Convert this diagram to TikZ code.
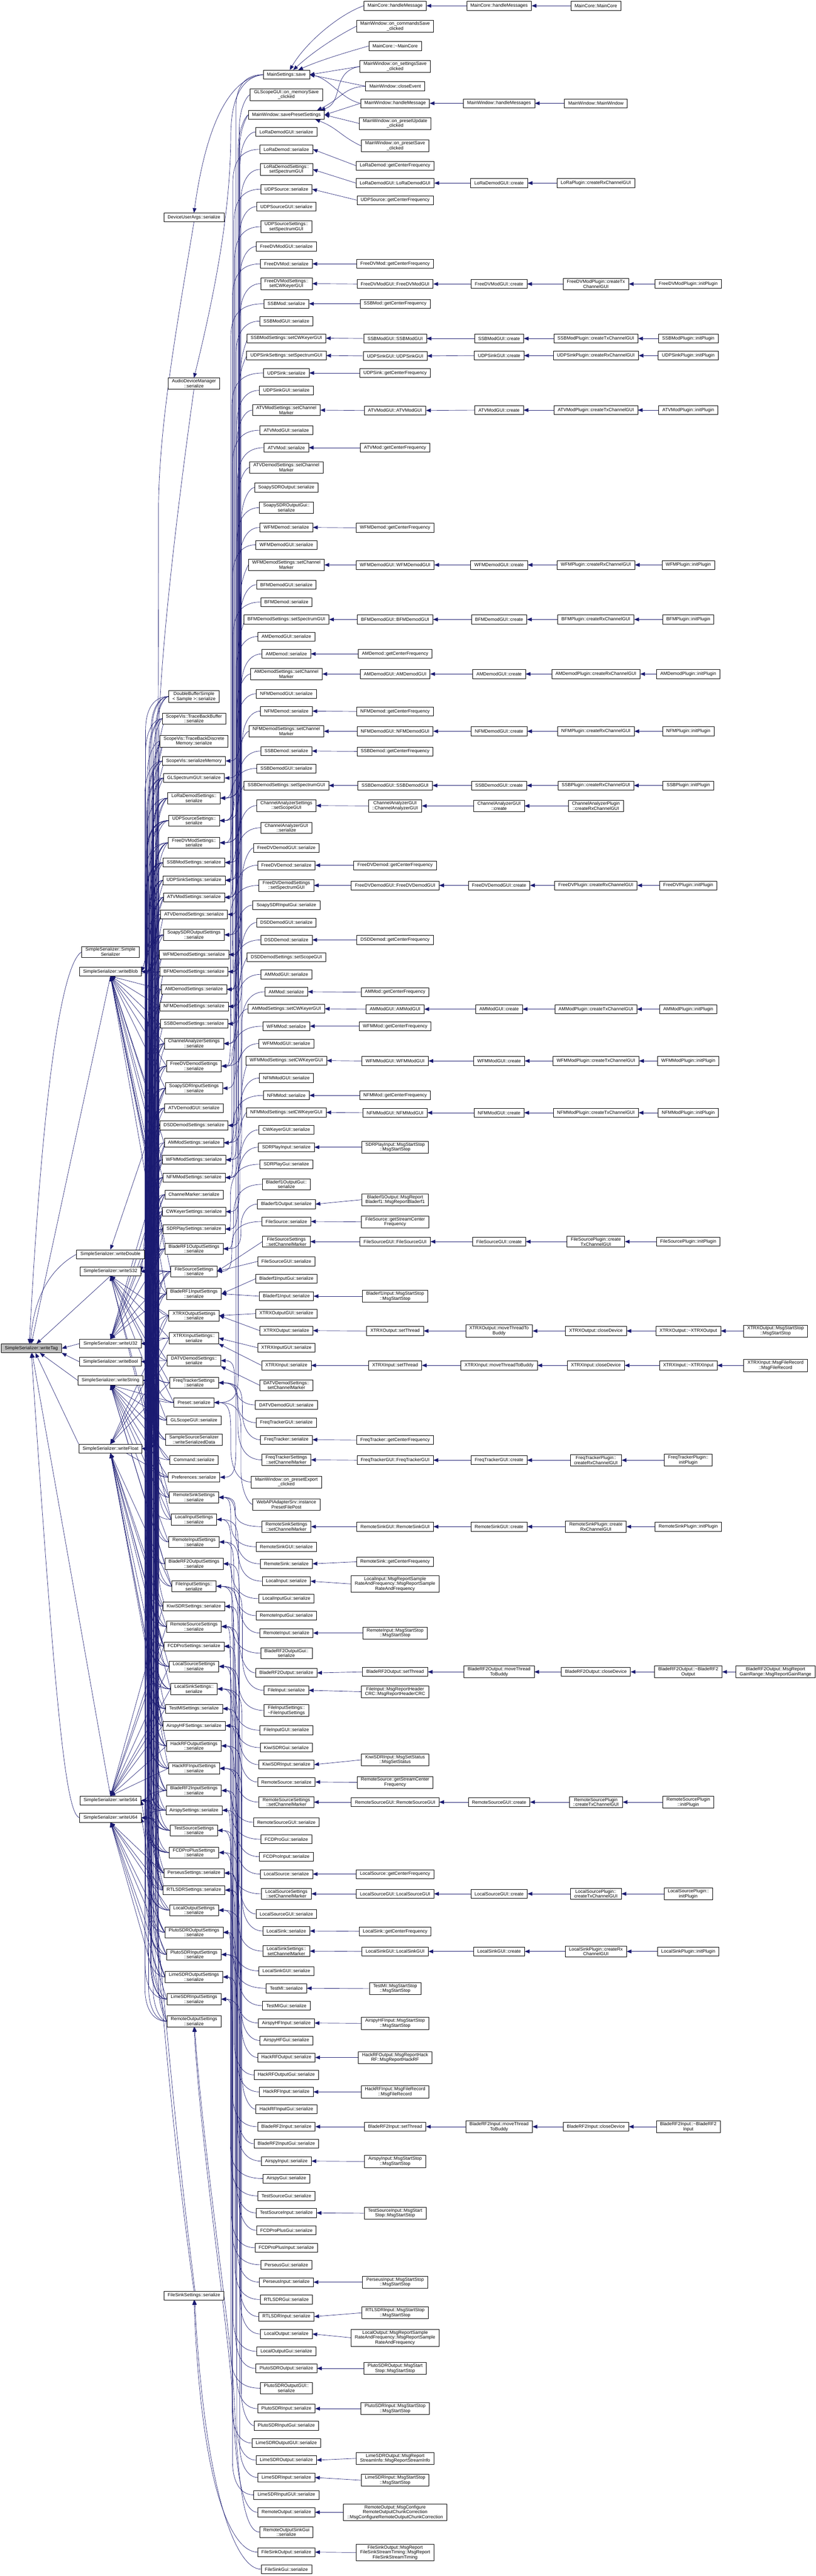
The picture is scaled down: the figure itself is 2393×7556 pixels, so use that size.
\documentclass[tikz,border=0pt]{standalone}
\usepackage{fontspec}
\setmainfont{Liberation Sans}
\usetikzlibrary{arrows.meta,backgrounds}
\definecolor{linkblue}{HTML}{191970}
\tikzset{
fn/.style={draw=black, fill=white, line width=1pt, align=center, inner xsep=11pt, inner ysep=4pt, minimum height=26pt, font=\fontsize{13.5}{14.5}\selectfont},
fnmain/.style={fn, fill=gray!50},
link/.style={draw=linkblue, line width=1pt, {Triangle[length=14pt,width=11pt]}-},
}
% long edge: out of the callee, along a vertical spine, into the caller
\newcommand{\hub}[4]{%
\pgfpointanchor{#1}{east}\pgfgetlastxy{\ax}{\ay}%
\pgfpointanchor{#2}{west}\pgfgetlastxy{\bx}{\by}%
\pgfmathsetmacro{\spinex}{#3+mod(abs(\ay+\by),#4)}%
\pgfmathsetmacro{\bendy}{ifthenelse(\by<\ay,-1,1)*min(100,abs(\by-\ay)/2)}%
\draw[link] (#1.east) .. controls (\spinex pt,\ay) and (\spinex pt,\ay+\bendy*0.4pt) .. (\spinex pt,\ay+\bendy*1pt) -- (\spinex pt,\by-\bendy*1pt) .. controls (\spinex pt,\by-\bendy*0.35pt) and (\spinex pt+25pt,\by) .. (#2.west);}
\newcommand{\hubR}[2]{\hub{#1}{#2}{676}{36}}
\newcommand{\hubL}[2]{\hub{#1}{#2}{425}{42}}
\newcommand{\upperset}{dbuf,tbBuf,tbMem,sMem,gSpec,sLora,sUdpSrc,sFdvMod,sSsbMod,sUdpSink,sAtvMod,sAtvDem,sSoapyOut,sWfmDem,sBfmDem,sAmDem,sNfmDem,sSsbDem,sChan,sFdvDem,sSoapyIn,gAtvDem,sDsd,sAmMod,sWfmMod,sNfmMod,cMarker,sCw,sSdrPlay,sBlOneOut,sFileSrc,sBlOneIn}
\newcommand{\midset}{sXtrxOut,sXtrxIn,sDatv,sFreq,preset,gScope,writeData,command,prefs,sRemSink,sLocIn,sRemIn,sBlTwoOut,sFileIn}
\newcommand{\lowset}{sKiwi,sRemSrc,sFcd,sLocSrc,sLocSink,sTestMi,sAirHf,sHackOut,sHackIn,sBlTwoIn,sAir,sTest,sFcdPlus,sPers,sRtl,sLocOut,sPlutoOut,sPlutoIn,sLimeOut,sLimeIn,sRemOut}
\begin{document}
\begin{tikzpicture}[x=1pt,y=-1pt]
\useasboundingbox (0,0) rectangle (2393,7556);
% callee
\node[fnmain] (wTag) at (92,3955){SimpleSerializer::writeTag};
\node[fn] (ssCtor) at (324,2792){SimpleSerializer::Simple\\Serializer};
\node[fn] (wBlob) at (324,2850){SimpleSerializer::writeBlob};
\node[fn] (wDouble) at (324,3679){SimpleSerializer::writeDouble};
\node[fn] (wS32) at (324,3729){SimpleSerializer::writeS32};
\node[fn] (wU32) at (324,3941){SimpleSerializer::writeU32};
\node[fn] (wBool) at (324,3994){SimpleSerializer::writeBool};
\node[fn] (wString) at (324,4049){SimpleSerializer::writeString};
\node[fn] (wFloat) at (324,4249){SimpleSerializer::writeFloat};
\node[fn] (wS64) at (324,5281){SimpleSerializer::writeS64};
\node[fn] (wU64) at (324,5332){SimpleSerializer::writeU64};
% settings
\node[fn] (args) at (569,638){DeviceUserArgs::serialize};
\node[fn] (audio) at (569,1125){AudioDeviceManager\\::serialize};
\node[fn] (dbuf) at (569,2043){DoubleBufferSimple\\< Sample >::serialize};
\node[fn] (tbBuf) at (569,2108){ScopeVis::TraceBackBuffer\\::serialize};
\node[fn] (tbMem) at (569,2174){ScopeVis::TraceBackDiscrete\\Memory::serialize};
\node[fn] (sMem) at (569,2232){ScopeVis::serializeMemory};
\node[fn] (gSpec) at (569,2282){GLSpectrumGUI::serialize};
\node[fn] (sLora) at (569,2341){LoRaDemodSettings::\\serialize};
\node[fn] (sUdpSrc) at (569,2407){UDPSourceSettings::\\serialize};
\node[fn] (sFdvMod) at (569,2472){FreeDVModSettings::\\serialize};
\node[fn] (sSsbMod) at (569,2530){SSBModSettings::serialize};
\node[fn] (sUdpSink) at (569,2582){UDPSinkSettings::serialize};
\node[fn] (sAtvMod) at (569,2632){ATVModSettings::serialize};
\node[fn] (sAtvDem) at (569,2682){ATVDemodSettings::serialize};
\node[fn] (sSoapyOut) at (569,2742){SoapySDROutputSettings\\::serialize};
\node[fn] (sWfmDem) at (569,2800){WFMDemodSettings::serialize};
\node[fn] (sBfmDem) at (569,2850){BFMDemodSettings::serialize};
\node[fn] (sAmDem) at (569,2902){AMDemodSettings::serialize};
\node[fn] (sNfmDem) at (569,2952){NFMDemodSettings::serialize};
\node[fn] (sSsbDem) at (569,3003){SSBDemodSettings::serialize};
\node[fn] (sChan) at (569,3061){ChannelAnalyzerSettings\\::serialize};
\node[fn] (sFdvDem) at (569,3127){FreeDVDemodSettings\\::serialize};
\node[fn] (sSoapyIn) at (569,3192){SoapySDRInputSettings\\::serialize};
\node[fn] (gAtvDem) at (569,3250){ATVDemodGUI::serialize};
\node[fn] (sDsd) at (569,3301){DSDDemodSettings::serialize};
\node[fn] (sAmMod) at (569,3352){AMModSettings::serialize};
\node[fn] (sWfmMod) at (569,3402){WFMModSettings::serialize};
\node[fn] (sNfmMod) at (569,3454){NFMModSettings::serialize};
\node[fn] (cMarker) at (569,3504){ChannelMarker::serialize};
\node[fn] (sCw) at (569,3554){CWKeyerSettings::serialize};
\node[fn] (sSdrPlay) at (569,3605){SDRPlaySettings::serialize};
\node[fn] (sBlOneOut) at (569,3663){BladeRF1OutputSettings\\::serialize};
\node[fn] (sFileSrc) at (569,3729){FileSourceSettings\\::serialize};
\node[fn] (sBlOneIn) at (569,3795){BladeRF1InputSettings\\::serialize};
\node[fn] (sXtrxOut) at (569,3859){XTRXOutputSettings\\::serialize};
\node[fn] (sXtrxIn) at (569,3925){XTRXInputSettings::\\serialize};
\node[fn] (sDatv) at (569,3991){DATVDemodSettings::\\serialize};
\node[fn] (sFreq) at (569,4056){FreqTrackerSettings\\::serialize};
\node[fn] (preset) at (569,4114){Preset::serialize};
\node[fn] (gScope) at (569,4166){GLScopeGUI::serialize};
\node[fn] (writeData) at (569,4223){SampleSourceSerializer\\::writeSerializedData};
\node[fn] (command) at (569,4282){Command::serialize};
\node[fn] (prefs) at (569,4333){Preferences::serialize};
\node[fn] (sRemSink) at (569,4392){RemoteSinkSettings\\::serialize};
\node[fn] (sLocIn) at (569,4457){LocalInputSettings\\::serialize};
\node[fn] (sRemIn) at (569,4523){RemoteInputSettings\\::serialize};
\node[fn] (sBlTwoOut) at (569,4587){BladeRF2OutputSettings\\::serialize};
\node[fn] (sFileIn) at (569,4653){FileInputSettings::\\serialize};
\node[fn] (sKiwi) at (569,4712){KiwiSDRSettings::serialize};
\node[fn] (sRemSrc) at (569,4771){RemoteSourceSettings\\::serialize};
\node[fn] (sFcd) at (569,4829){FCDProSettings::serialize};
\node[fn] (sLocSrc) at (569,4888){LocalSourceSettings\\::serialize};
\node[fn] (sLocSink) at (569,4954){LocalSinkSettings::\\serialize};
\node[fn] (sTestMi) at (569,5012){TestMISettings::serialize};
\node[fn] (sAirHf) at (569,5062){AirspyHFSettings::serialize};
\node[fn] (sHackOut) at (569,5121){HackRFOutputSettings\\::serialize};
\node[fn] (sHackIn) at (569,5187){HackRFInputSettings\\::serialize};
\node[fn] (sBlTwoIn) at (569,5252){BladeRF2InputSettings\\::serialize};
\node[fn] (sAir) at (569,5310){AirspySettings::serialize};
\node[fn] (sTest) at (569,5369){TestSourceSettings\\::serialize};
\node[fn] (sFcdPlus) at (569,5434){FCDProPlusSettings\\::serialize};
\node[fn] (sPers) at (569,5494){PerseusSettings::serialize};
\node[fn] (sRtl) at (569,5544){RTLSDRSettings::serialize};
\node[fn] (sLocOut) at (569,5603){LocalOutputSettings\\::serialize};
\node[fn] (sPlutoOut) at (569,5668){PlutoSDROutputSettings\\::serialize};
\node[fn] (sPlutoIn) at (569,5733){PlutoSDRInputSettings\\::serialize};
\node[fn] (sLimeOut) at (569,5799){LimeSDROutputSettings\\::serialize};
\node[fn] (sLimeIn) at (569,5864){LimeSDRInputSettings\\::serialize};
\node[fn] (sRemOut) at (569,5929){RemoteOutputSettings\\::serialize};
\node[fn] (sFileSink) at (569,6733){FileSinkSettings::serialize};
% callers of the settings
\node[fn] (cSave) at (840,219){MainSettings::save};
\node[fn] (cMem) at (840,278){GLScopeGUI::on\_memorySave\\\_clicked};
\node[fn] (cPreset) at (840,337){MainWindow::savePresetSettings};
\node[fn] (cLoraGui) at (840,387){LoRaDemodGUI::serialize};
\node[fn] (cLora) at (840,438){LoRaDemod::serialize};
\node[fn] (cLoraSpec) at (840,497){LoRaDemodSettings::\\setSpectrumGUI};
\node[fn] (cUdpSrc) at (840,555){UDPSource::serialize};
\node[fn] (cUdpSrcGui) at (840,606){UDPSourceGUI::serialize};
\node[fn] (cUdpSrcSpec) at (840,665){UDPSourceSettings::\\setSpectrumGUI};
\node[fn] (cFdvModGui) at (840,723){FreeDVModGUI::serialize};
\node[fn] (cFdvMod) at (840,774){FreeDVMod::serialize};
\node[fn] (cFdvModCw) at (840,832){FreeDVModSettings::\\setCWKeyerGUI};
\node[fn] (cSsbMod) at (840,891){SSBMod::serialize};
\node[fn] (cSsbModGui) at (840,942){SSBModGUI::serialize};
\node[fn] (cSsbModCw) at (840,992){SSBModSettings::setCWKeyerGUI};
\node[fn] (cUdpSinkSpec) at (840,1043){UDPSinkSettings::setSpectrumGUI};
\node[fn] (cUdpSink) at (840,1094){UDPSink::serialize};
\node[fn] (cUdpSinkGui) at (840,1145){UDPSinkGUI::serialize};
\node[fn] (cAtvModMark) at (840,1203){ATVModSettings::setChannel\\Marker};
\node[fn] (cAtvModGui) at (840,1262){ATVModGUI::serialize};
\node[fn] (cAtvMod) at (840,1313){ATVMod::serialize};
\node[fn] (cAtvDemMark) at (840,1371){ATVDemodSettings::setChannel\\Marker};
\node[fn] (cSoapyOut) at (840,1430){SoapySDROutput::serialize};
\node[fn] (cSoapyOutGui) at (840,1489){SoapySDROutputGui::\\serialize};
\node[fn] (cWfmDem) at (840,1547){WFMDemod::serialize};
\node[fn] (cWfmDemGui) at (840,1598){WFMDemodGUI::serialize};
\node[fn] (cWfmDemMark) at (840,1657){WFMDemodSettings::setChannel\\Marker};
\node[fn] (cBfmDemGui) at (840,1715){BFMDemodGUI::serialize};
\node[fn] (cBfmDem) at (840,1766){BFMDemod::serialize};
\node[fn] (cBfmDemSpec) at (840,1817){BFMDemodSettings::setSpectrumGUI};
\node[fn] (cAmDemGui) at (840,1867){AMDemodGUI::serialize};
\node[fn] (cAmDem) at (840,1918){AMDemod::serialize};
\node[fn] (cAmDemMark) at (840,1977){AMDemodSettings::setChannel\\Marker};
\node[fn] (cNfmDemGui) at (840,2035){NFMDemodGUI::serialize};
\node[fn] (cNfmDem) at (840,2086){NFMDemod::serialize};
\node[fn] (cNfmDemMark) at (840,2145){NFMDemodSettings::setChannel\\Marker};
\node[fn] (cSsbDem) at (840,2203){SSBDemod::serialize};
\node[fn] (cSsbDemGui) at (840,2254){SSBDemodGUI::serialize};
\node[fn] (cSsbDemSpec) at (840,2304){SSBDemodSettings::setSpectrumGUI};
\node[fn] (cChanScope) at (840,2363){ChannelAnalyzerSettings\\::setScopeGUI};
\node[fn] (cChanGui) at (840,2428){ChannelAnalyzerGUI\\::serialize};
\node[fn] (cFdvDemGui) at (840,2487){FreeDVDemodGUI::serialize};
\node[fn] (cFdvDem) at (840,2538){FreeDVDemod::serialize};
\node[fn] (cFdvDemSpec) at (840,2597){FreeDVDemodSettings\\::setSpectrumGUI};
\node[fn] (cSoapyInGui) at (840,2655){SoapySDRInputGui::serialize};
\node[fn] (cDsdGui) at (840,2706){DSDDemodGUI::serialize};
\node[fn] (cDsd) at (840,2757){DSDDemod::serialize};
\node[fn] (cDsdScope) at (840,2808){DSDDemodSettings::setScopeGUI};
\node[fn] (cAmModGui) at (840,2858){AMModGUI::serialize};
\node[fn] (cAmMod) at (840,2909){AMMod::serialize};
\node[fn] (cAmModCw) at (840,2959){AMModSettings::setCWKeyerGUI};
\node[fn] (cWfmMod) at (840,3010){WFMMod::serialize};
\node[fn] (cWfmModGui) at (840,3061){WFMModGUI::serialize};
\node[fn] (cWfmModCw) at (840,3111){WFMModSettings::setCWKeyerGUI};
\node[fn] (cNfmModGui) at (840,3162){NFMModGUI::serialize};
\node[fn] (cNfmMod) at (840,3213){NFMMod::serialize};
\node[fn] (cNfmModCw) at (840,3263){NFMModSettings::setCWKeyerGUI};
\node[fn] (cCwGui) at (840,3314){CWKeyerGUI::serialize};
\node[fn] (cSdrPlay) at (840,3365){SDRPlayInput::serialize};
\node[fn] (cSdrPlayGui) at (840,3415){SDRPlayGui::serialize};
\node[fn] (cBlOneOutGui) at (840,3474){Bladerf1OutputGui::\\serialize};
\node[fn] (cBlOneOut) at (840,3532){Bladerf1Output::serialize};
\node[fn] (cFileSrc) at (840,3583){FileSource::serialize};
\node[fn] (cFileSrcMark) at (840,3642){FileSourceSettings\\::setChannelMarker};
\node[fn] (cFileSrcGui) at (840,3700){FileSourceGUI::serialize};
\node[fn] (cBlOneInGui) at (840,3751){Bladerf1InputGui::serialize};
\node[fn] (cBlOneIn) at (840,3802){Bladerf1Input::serialize};
\node[fn] (cXtrxOutGui) at (840,3853){XTRXOutputGUI::serialize};
\node[fn] (cXtrxOut) at (840,3903){XTRXOutput::serialize};
\node[fn] (cXtrxInGui) at (840,3953){XTRXInputGUI::serialize};
\node[fn] (cXtrxIn) at (840,4005){XTRXInput::serialize};
\node[fn] (cDatvMark) at (840,4063){DATVDemodSettings::\\setChannelMarker};
\node[fn] (cDatvGui) at (840,4121){DATVDemodGUI::serialize};
\node[fn] (cFreqGui) at (840,4173){FreqTrackerGUI::serialize};
\node[fn] (cFreq) at (840,4223){FreqTracker::serialize};
\node[fn] (cFreqMark) at (840,4282){FreqTrackerSettings\\::setChannelMarker};
\node[fn] (cExport) at (840,4347){MainWindow::on\_presetExport\\\_clicked};
\node[fn] (cWebApi) at (840,4413){WebAPIAdapterSrv::instance\\PresetFilePost};
\node[fn] (cRemSinkMark) at (840,4478){RemoteSinkSettings\\::setChannelMarker};
\node[fn] (cRemSinkGui) at (840,4537){RemoteSinkGUI::serialize};
\node[fn] (cRemSink) at (840,4587){RemoteSink::serialize};
\node[fn] (cLocIn) at (840,4638){LocalInput::serialize};
\node[fn] (cLocInGui) at (840,4689){LocalInputGui::serialize};
\node[fn] (cRemInGui) at (840,4739){RemoteInputGui::serialize};
\node[fn] (cRemIn) at (840,4790){RemoteInput::serialize};
\node[fn] (cBlTwoOutGui) at (840,4849){BladeRF2OutputGui::\\serialize};
\node[fn] (cBlTwoOut) at (840,4907){BladeRF2Output::serialize};
\node[fn] (cFileIn) at (840,4958){FileInput::serialize};
\node[fn] (cFileInDtor) at (840,5017){FileInputSettings::\\\textasciitilde FileInputSettings};
\node[fn] (cFileInGui) at (840,5075){FileInputGUI::serialize};
\node[fn] (cKiwiGui) at (840,5126){KiwiSDRGui::serialize};
\node[fn] (cKiwi) at (840,5176){KiwiSDRInput::serialize};
\node[fn] (cRemSrc) at (840,5227){RemoteSource::serialize};
\node[fn] (cRemSrcMark) at (840,5286){RemoteSourceSettings\\::setChannelMarker};
\node[fn] (cRemSrcGui) at (840,5345){RemoteSourceGUI::serialize};
\node[fn] (cFcdGui) at (840,5395){FCDProGui::serialize};
\node[fn] (cFcd) at (840,5446){FCDProInput::serialize};
\node[fn] (cLocSrc) at (840,5497){LocalSource::serialize};
\node[fn] (cLocSrcMark) at (840,5555){LocalSourceSettings\\::setChannelMarker};
\node[fn] (cLocSrcGui) at (840,5614){LocalSourceGUI::serialize};
\node[fn] (cLocSink) at (840,5664){LocalSink::serialize};
\node[fn] (cLocSinkMark) at (840,5723){LocalSinkSettings::\\setChannelMarker};
\node[fn] (cLocSinkGui) at (840,5781){LocalSinkGUI::serialize};
\node[fn] (cTestMi) at (840,5832){TestMI::serialize};
\node[fn] (cTestMiGui) at (840,5883){TestMIGui::serialize};
\node[fn] (cAirHf) at (840,5934){AirspyHFInput::serialize};
\node[fn] (cAirHfGui) at (840,5985){AirspyHFGui::serialize};
\node[fn] (cHackOut) at (840,6035){HackRFOutput::serialize};
\node[fn] (cHackOutGui) at (840,6086){HackRFOutputGui::serialize};
\node[fn] (cHackIn) at (840,6136){HackRFInput::serialize};
\node[fn] (cHackInGui) at (840,6187){HackRFInputGui::serialize};
\node[fn] (cBlTwoIn) at (840,6238){BladeRF2Input::serialize};
\node[fn] (cBlTwoInGui) at (840,6288){BladeRF2InputGui::serialize};
\node[fn] (cAir) at (840,6339){AirspyInput::serialize};
\node[fn] (cAirGui) at (840,6390){AirspyGui::serialize};
\node[fn] (cTestGui) at (840,6441){TestSourceGui::serialize};
\node[fn] (cTest) at (840,6491){TestSourceInput::serialize};
\node[fn] (cFcdPlusGui) at (840,6542){FCDProPlusGui::serialize};
\node[fn] (cFcdPlus) at (840,6593){FCDProPlusInput::serialize};
\node[fn] (cPersGui) at (840,6643){PerseusGui::serialize};
\node[fn] (cPers) at (840,6694){PerseusInput::serialize};
\node[fn] (cRtlGui) at (840,6745){RTLSDRGui::serialize};
\node[fn] (cRtl) at (840,6795){RTLSDRInput::serialize};
\node[fn] (cLocOut) at (840,6846){LocalOutput::serialize};
\node[fn] (cLocOutGui) at (840,6897){LocalOutputGui::serialize};
\node[fn] (cPlutoOut) at (840,6947){PlutoSDROutput::serialize};
\node[fn] (cPlutoOutGui) at (840,7005){PlutoSDROutputGUI::\\serialize};
\node[fn] (cPlutoIn) at (840,7065){PlutoSDRInput::serialize};
\node[fn] (cPlutoInGui) at (840,7115){PlutoSDRInputGui::serialize};
\node[fn] (cLimeOutGui) at (840,7166){LimeSDROutputGUI::serialize};
\node[fn] (cLimeOut) at (840,7216){LimeSDROutput::serialize};
\node[fn] (cLimeIn) at (840,7267){LimeSDRInput::serialize};
\node[fn] (cLimeInGui) at (840,7318){LimeSDRInputGUI::serialize};
\node[fn] (cRemOut) at (840,7369){RemoteOutput::serialize};
\node[fn] (cRemOutGui) at (840,7427){RemoteOutputSinkGui\\::serialize};
\node[fn] (cFileSinkOut) at (840,7486){FileSinkOutput::serialize};
\node[fn] (cFileSinkGui) at (840,7536){FileSinkGui::serialize};
% next column
\node[fn] (dCore) at (1159,17){MainCore::handleMessage};
\node[fn] (dCommands) at (1159,77){MainWindow::on\_commandsSave\\\_clicked};
\node[fn] (dDtor) at (1159,135){MainCore::\textasciitilde MainCore};
\node[fn] (dSettings) at (1159,195){MainWindow::on\_settingsSave\\\_clicked};
\node[fn] (dClose) at (1159,253){MainWindow::closeEvent};
\node[fn] (dHandle) at (1159,303){MainWindow::handleMessage};
\node[fn] (dUpdate) at (1159,362){MainWindow::on\_presetUpdate\\\_clicked};
\node[fn] (dPreSave) at (1159,428){MainWindow::on\_presetSave\\\_clicked};
\node[fn] (dLora) at (1159,486){LoRaDemod::getCenterFrequency};
\node[fn] (dLoraGui) at (1159,537){LoRaDemodGUI::LoRaDemodGUI};
\node[fn] (dUdpSrc) at (1159,587){UDPSource::getCenterFrequency};
\node[fn] (dFdvMod) at (1159,774){FreeDVMod::getCenterFrequency};
\node[fn] (dFdvModGui) at (1159,833){FreeDVModGUI::FreeDVModGUI};
\node[fn] (dSsbMod) at (1159,891){SSBMod::getCenterFrequency};
\node[fn] (dSsbModGui) at (1159,993){SSBModGUI::SSBModGUI};
\node[fn] (dUdpSinkGui) at (1159,1044){UDPSinkGUI::UDPSinkGUI};
\node[fn] (dUdpSink) at (1159,1094){UDPSink::getCenterFrequency};
\node[fn] (dAtvModGui) at (1159,1204){ATVModGUI::ATVModGUI};
\node[fn] (dAtvMod) at (1159,1313){ATVMod::getCenterFrequency};
\node[fn] (dWfmDem) at (1159,1548){WFMDemod::getCenterFrequency};
\node[fn] (dWfmDemGui) at (1159,1657){WFMDemodGUI::WFMDemodGUI};
\node[fn] (dBfmDemGui) at (1159,1817){BFMDemodGUI::BFMDemodGUI};
\node[fn] (dAmDem) at (1159,1918){AMDemod::getCenterFrequency};
\node[fn] (dAmDemGui) at (1159,1977){AMDemodGUI::AMDemodGUI};
\node[fn] (dNfmDem) at (1159,2087){NFMDemod::getCenterFrequency};
\node[fn] (dNfmDemGui) at (1159,2145){NFMDemodGUI::NFMDemodGUI};
\node[fn] (dSsbDem) at (1159,2204){SSBDemod::getCenterFrequency};
\node[fn] (dSsbDemGui) at (1159,2304){SSBDemodGUI::SSBDemodGUI};
\node[fn] (dChanGui) at (1159,2364){ChannelAnalyzerGUI\\::ChannelAnalyzerGUI};
\node[fn] (dFdvDem) at (1159,2538){FreeDVDemod::getCenterFrequency};
\node[fn] (dFdvDemGui) at (1159,2597){FreeDVDemodGUI::FreeDVDemodGUI};
\node[fn] (dDsd) at (1159,2757){DSDDemod::getCenterFrequency};
\node[fn] (dAmMod) at (1159,2910){AMMod::getCenterFrequency};
\node[fn] (dAmModGui) at (1159,2960){AMModGUI::AMModGUI};
\node[fn] (dWfmMod) at (1159,3010){WFMMod::getCenterFrequency};
\node[fn] (dWfmModGui) at (1159,3112){WFMModGUI::WFMModGUI};
\node[fn] (dNfmMod) at (1159,3213){NFMMod::getCenterFrequency};
\node[fn] (dNfmModGui) at (1159,3264){NFMModGUI::NFMModGUI};
\node[fn] (dSdrPlay) at (1159,3365){SDRPlayInput::MsgStartStop\\::MsgStartStop};
\node[fn] (dBlOneOut) at (1159,3519){Bladerf1Output::MsgReport\\Bladerf1::MsgReportBladerf1};
\node[fn] (dFileSrc) at (1159,3584){FileSource::getStreamCenter\\Frequency};
\node[fn] (dFileSrcGui) at (1159,3642){FileSourceGUI::FileSourceGUI};
\node[fn] (dBlOneIn) at (1159,3802){Bladerf1Input::MsgStartStop\\::MsgStartStop};
\node[fn] (dXtrxOut) at (1159,3904){XTRXOutput::setThread};
\node[fn] (dXtrxIn) at (1159,4005){XTRXInput::setThread};
\node[fn] (dFreq) at (1159,4224){FreqTracker::getCenterFrequency};
\node[fn] (dFreqGui) at (1159,4283){FreqTrackerGUI::FreqTrackerGUI};
\node[fn] (dRemSinkGui) at (1159,4478){RemoteSinkGUI::RemoteSinkGUI};
\node[fn] (dRemSink) at (1159,4581){RemoteSink::getCenterFrequency};
\node[fn] (dLocIn) at (1159,4646){LocalInput::MsgReportSample\\RateAndFrequency::MsgReportSample\\RateAndFrequency};
\node[fn] (dRemIn) at (1159,4790){RemoteInput::MsgStartStop\\::MsgStartStop};
\node[fn] (dBlTwoOut) at (1159,4904){BladeRF2Output::setThread};
\node[fn] (dFileIn) at (1159,4962){FileInput::MsgReportHeader\\CRC::MsgReportHeaderCRC};
\node[fn] (dKiwi) at (1159,5162){KiwiSDRInput::MsgSetStatus\\::MsgSetStatus};
\node[fn] (dRemSrc) at (1159,5228){RemoteSource::getStreamCenter\\Frequency};
\node[fn] (dRemSrcGui) at (1159,5286){RemoteSourceGUI::RemoteSourceGUI};
\node[fn] (dLocSrc) at (1159,5497){LocalSource::getCenterFrequency};
\node[fn] (dLocSrcGui) at (1159,5555){LocalSourceGUI::LocalSourceGUI};
\node[fn] (dLocSink) at (1159,5665){LocalSink::getCenterFrequency};
\node[fn] (dLocSinkGui) at (1159,5724){LocalSinkGUI::LocalSinkGUI};
\node[fn] (dTestMi) at (1159,5833){TestMI::MsgStartStop\\::MsgStartStop};
\node[fn] (dAirHf) at (1159,5935){AirspyHFInput::MsgStartStop\\::MsgStartStop};
\node[fn] (dHackOut) at (1159,6035){HackRFOutput::MsgReportHack\\RF::MsgReportHackRF};
\node[fn] (dHackIn) at (1159,6136){HackRFInput::MsgFileRecord\\::MsgFileRecord};
\node[fn] (dBlTwoIn) at (1159,6238){BladeRF2Input::setThread};
\node[fn] (dAir) at (1159,6340){AirspyInput::MsgStartStop\\::MsgStartStop};
\node[fn] (dTest) at (1159,6492){TestSourceInput::MsgStart\\Stop::MsgStartStop};
\node[fn] (dPers) at (1159,6694){PerseusInput::MsgStartStop\\::MsgStartStop};
\node[fn] (dRtl) at (1159,6784){RTLSDRInput::MsgStartStop\\::MsgStartStop};
\node[fn] (dLocOut) at (1159,6857){LocalOutput::MsgReportSample\\RateAndFrequency::MsgReportSample\\RateAndFrequency};
\node[fn] (dPlutoOut) at (1159,6947){PlutoSDROutput::MsgStart\\Stop::MsgStartStop};
\node[fn] (dPlutoIn) at (1159,7065){PlutoSDRInput::MsgStartStop\\::MsgStartStop};
\node[fn] (dLimeOut) at (1159,7211){LimeSDROutput::MsgReport\\StreamInfo::MsgReportStreamInfo};
\node[fn] (dLimeIn) at (1159,7275){LimeSDRInput::MsgStartStop\\::MsgStartStop};
\node[fn] (dRemOut) at (1159,7369){RemoteOutput::MsgConfigure\\RemoteOutputChunkCorrection\\::MsgConfigureRemoteOutputChunkCorrection};
\node[fn] (dFileSink) at (1159,7487){FileSinkOutput::MsgReport\\FileSinkStreamTiming::MsgReport\\FileSinkStreamTiming};
% create and friends
\node[fn] (eCore) at (1464,17){MainCore::handleMessages};
\node[fn] (eMain) at (1464,303){MainWindow::handleMessages};
\node[fn] (eLora) at (1464,537){LoRaDemodGUI::create};
\node[fn] (eFdvMod) at (1464,833){FreeDVModGUI::create};
\node[fn] (eSsbMod) at (1464,993){SSBModGUI::create};
\node[fn] (eUdpSink) at (1464,1043){UDPSinkGUI::create};
\node[fn] (eAtvMod) at (1464,1203){ATVModGUI::create};
\node[fn] (eWfmDem) at (1464,1657){WFMDemodGUI::create};
\node[fn] (eBfmDem) at (1464,1817){BFMDemodGUI::create};
\node[fn] (eAmDem) at (1464,1977){AMDemodGUI::create};
\node[fn] (eNfmDem) at (1464,2145){NFMDemodGUI::create};
\node[fn] (eSsbDem) at (1464,2304){SSBDemodGUI::create};
\node[fn] (eChan) at (1464,2364){ChannelAnalyzerGUI\\::create};
\node[fn] (eFdvDem) at (1464,2597){FreeDVDemodGUI::create};
\node[fn] (eAmMod) at (1464,2960){AMModGUI::create};
\node[fn] (eWfmMod) at (1464,3112){WFMModGUI::create};
\node[fn] (eNfmMod) at (1464,3264){NFMModGUI::create};
\node[fn] (eFileSrc) at (1464,3642){FileSourceGUI::create};
\node[fn] (eXtrxOut) at (1464,3904){XTRXOutput::moveThreadTo\\Buddy};
\node[fn] (eXtrxIn) at (1464,4005){XTRXInput::moveThreadToBuddy};
\node[fn] (eFreq) at (1464,4283){FreqTrackerGUI::create};
\node[fn] (eRemSink) at (1464,4478){RemoteSinkGUI::create};
\node[fn] (eBlTwoOut) at (1464,4904){BladeRF2Output::moveThread\\ToBuddy};
\node[fn] (eRemSrc) at (1464,5286){RemoteSourceGUI::create};
\node[fn] (eLocSrc) at (1464,5555){LocalSourceGUI::create};
\node[fn] (eLocSink) at (1464,5724){LocalSinkGUI::create};
\node[fn] (eBlTwoIn) at (1464,6238){BladeRF2Input::moveThread\\ToBuddy};
% plugins
\node[fn] (fCore) at (1748,17){MainCore::MainCore};
\node[fn] (fMain) at (1748,303){MainWindow::MainWindow};
\node[fn] (fLora) at (1748,537){LoRaPlugin::createRxChannelGUI};
\node[fn] (fFdvMod) at (1748,833){FreeDVModPlugin::createTx\\ChannelGUI};
\node[fn] (fSsbMod) at (1748,993){SSBModPlugin::createTxChannelGUI};
\node[fn] (fUdpSink) at (1748,1043){UDPSinkPlugin::createRxChannelGUI};
\node[fn] (fAtvMod) at (1748,1203){ATVModPlugin::createTxChannelGUI};
\node[fn] (fWfmDem) at (1748,1657){WFMPlugin::createRxChannelGUI};
\node[fn] (fBfmDem) at (1748,1817){BFMPlugin::createRxChannelGUI};
\node[fn] (fAmDem) at (1748,1977){AMDemodPlugin::createRxChannelGUI};
\node[fn] (fNfmDem) at (1748,2145){NFMPlugin::createRxChannelGUI};
\node[fn] (fSsbDem) at (1748,2304){SSBPlugin::createRxChannelGUI};
\node[fn] (fChan) at (1748,2364){ChannelAnalyzerPlugin\\::createRxChannelGUI};
\node[fn] (fFdvDem) at (1748,2597){FreeDVPlugin::createRxChannelGUI};
\node[fn] (fAmMod) at (1748,2960){AMModPlugin::createTxChannelGUI};
\node[fn] (fWfmMod) at (1748,3112){WFMModPlugin::createTxChannelGUI};
\node[fn] (fNfmMod) at (1748,3264){NFMModPlugin::createTxChannelGUI};
\node[fn] (fFileSrc) at (1748,3642){FileSourcePlugin::create\\TxChannelGUI};
\node[fn] (fXtrxOut) at (1748,3904){XTRXOutput::closeDevice};
\node[fn] (fXtrxIn) at (1748,4005){XTRXInput::closeDevice};
\node[fn] (fFreq) at (1748,4283){FreqTrackerPlugin::\\createRxChannelGUI};
\node[fn] (fRemSink) at (1748,4478){RemoteSinkPlugin::create\\RxChannelGUI};
\node[fn] (fBlTwoOut) at (1748,4904){BladeRF2Output::closeDevice};
\node[fn] (fRemSrc) at (1748,5286){RemoteSourcePlugin\\::createTxChannelGUI};
\node[fn] (fLocSrc) at (1748,5555){LocalSourcePlugin::\\createTxChannelGUI};
\node[fn] (fLocSink) at (1748,5724){LocalSinkPlugin::createRx\\ChannelGUI};
\node[fn] (fBlTwoIn) at (1748,6238){BladeRF2Input::closeDevice};
% initPlugin
\node[fn] (hFdvMod) at (2019,833){FreeDVModPlugin::initPlugin};
\node[fn] (hSsbMod) at (2019,993){SSBModPlugin::initPlugin};
\node[fn] (hUdpSink) at (2019,1043){UDPSinkPlugin::initPlugin};
\node[fn] (hAtvMod) at (2019,1203){ATVModPlugin::initPlugin};
\node[fn] (hWfmDem) at (2019,1657){WFMPlugin::initPlugin};
\node[fn] (hBfmDem) at (2019,1817){BFMPlugin::initPlugin};
\node[fn] (hAmDem) at (2019,1977){AMDemodPlugin::initPlugin};
\node[fn] (hNfmDem) at (2019,2145){NFMPlugin::initPlugin};
\node[fn] (hSsbDem) at (2019,2304){SSBPlugin::initPlugin};
\node[fn] (hFdvDem) at (2019,2597){FreeDVPlugin::initPlugin};
\node[fn] (hAmMod) at (2019,2960){AMModPlugin::initPlugin};
\node[fn] (hWfmMod) at (2019,3112){WFMModPlugin::initPlugin};
\node[fn] (hNfmMod) at (2019,3264){NFMModPlugin::initPlugin};
\node[fn] (hFileSrc) at (2019,3642){FileSourcePlugin::initPlugin};
\node[fn] (hXtrxOut) at (2019,3904){XTRXOutput::\textasciitilde XTRXOutput};
\node[fn] (hXtrxIn) at (2019,4005){XTRXInput::\textasciitilde XTRXInput};
\node[fn] (hFreq) at (2019,4283){FreqTrackerPlugin::\\initPlugin};
\node[fn] (hRemSink) at (2019,4478){RemoteSinkPlugin::initPlugin};
\node[fn] (hBlTwoOut) at (2019,4904){BladeRF2Output::\textasciitilde BladeRF2\\Output};
\node[fn] (hRemSrc) at (2019,5286){RemoteSourcePlugin\\::initPlugin};
\node[fn] (hLocSrc) at (2019,5555){LocalSourcePlugin::\\initPlugin};
\node[fn] (hLocSink) at (2019,5724){LocalSinkPlugin::initPlugin};
\node[fn] (hBlTwoIn) at (2019,6238){BladeRF2Input::\textasciitilde BladeRF2\\Input};
\node[fn] (kXtrxOut) at (2275,3904){XTRXOutput::MsgStartStop\\::MsgStartStop};
\node[fn] (kXtrxIn) at (2275,4005){XTRXInput::MsgFileRecord\\::MsgFileRecord};
\node[fn] (kBlTwoOut) at (2275,4904){BladeRF2Output::MsgReport\\GainRange::MsgReportGainRange};
\begin{pgfonlayer}{background}
% into writeTag
\draw[link] (wTag.east) -- (wU32.west);
\draw[link] (wTag.south east) -- (wBool.west);
\draw[link] ([xshift=25pt]wTag.south) -- (wString.west);
\draw[link] ([xshift=12pt]wTag.south) -- (wFloat.north west);
\draw[link] ([xshift=2pt]wTag.south) -- (wS64.north);
\draw[link] (wTag.south) .. controls (165,5060) and (195,5320) .. (wU64.west);
\draw[link] (wTag.north) -- (wBlob.south);
\draw[link] ([xshift=-3pt]wTag.north) .. controls (100,3800) and (150,3720) .. (wDouble.west);
\draw[link] ([xshift=15pt]wTag.north) -- (wS32.south);
\draw[link] ([xshift=-6pt]wTag.north) .. controls (125,3200) and (180,2830) .. (ssCtor.west);
% the settings bundle
\foreach \t in \upperset {\hubL{wBool}{\t} \hubL{wString}{\t} \hubL{wFloat}{\t}}
\foreach \t in \midset {\hubL{wBool}{\t} \hubL{wU32}{\t}}
\foreach \t in \lowset {\hubL{wBool}{\t} \hubL{wString}{\t} \hubL{wS32}{\t} \hubL{wU32}{\t}}
\foreach \t in {dbuf,tbBuf,tbMem,sMem,gSpec,sLora,sUdpSrc,sFdvMod,sSsbMod,sUdpSink,sAtvMod,sAtvDem,sSoapyOut,sWfmDem,sBfmDem,sAmDem,sNfmDem,sSsbDem,sChan,sFdvDem,sSoapyIn,gAtvDem,sDsd,sAmMod,sWfmMod,sNfmMod,cMarker,sCw,sSdrPlay,sBlOneOut,sFileSrc,sBlOneIn} {\hubL{wS32}{\t}}
\foreach \t in {sLora,sUdpSrc,sFdvMod,sSsbMod,sUdpSink,sAtvMod,sAtvDem,sSoapyOut,sWfmDem,sBfmDem,sAmDem,sNfmDem,sSsbDem,sChan,sFdvDem,sSoapyIn,gAtvDem,sDsd} {\hubL{wU32}{\t}}
\foreach \t in {dbuf,tbBuf,tbMem,sMem,gSpec,sLora,sUdpSrc,sFdvMod,sSsbMod,sUdpSink,sAtvMod,sAtvDem,sSoapyOut,sWfmDem} {\hubL{wBlob}{\t}}
\foreach \t in {sFileSrc,sBlOneIn,sBlOneOut,sXtrxOut,sChan,sFreq} {\hubL{wDouble}{\t}}
\foreach \t in {sBlTwoIn,sAir,sTest,sFcdPlus,sPers,sRtl} {\hubL{wS64}{\t} \hubL{wU64}{\t}}
\foreach \t in {sBfmDem,sAmDem,sNfmDem,sSsbDem,sChan,sFdvDem,sSoapyIn,sDsd,sAmMod,sWfmMod,sNfmMod,sCw,sSdrPlay,sBlOneOut,sFileSrc,sBlOneIn} {\draw[link] (wBlob.south) -- (\t.west);}
\foreach \t in {sXtrxOut,sXtrxIn,sDatv,sFreq,sRemSink,sLocIn,preset,gScope} {\draw[link] (wS32.south) -- (\t.west);}
\foreach \t in {sNfmMod,cMarker,sCw,sSdrPlay,sBlOneOut,sFileSrc,sBlOneIn,sWfmMod} {\draw[link] (wU32.north) -- (\t.west);}
\foreach \t in {preset,gScope,writeData,command,prefs,sRemSink,sLocIn,sRemIn,sBlTwoOut,sFileIn} {\draw[link] (wString.south) -- (\t.west);}
\foreach \t in {sXtrxOut,sXtrxIn,sDatv,sFreq,prefs} {\draw[link] (wFloat.north) -- (\t.west);}
\foreach \t in {sFileIn,sKiwi,sRemSrc,sFcd,sLocSrc,sLocSink,sTestMi,sAirHf,sHackOut,sHackIn} {\draw[link] (wFloat.south) -- (\t.west);}
\foreach \t in {sHackOut,sHackIn,sKiwi,sRemSrc,sFcd,sLocSrc,sLocSink,sTestMi,sAirHf} {\draw[link] (wS64.north) -- (\t.west);}
\foreach \t in {sLocOut,sPlutoOut,sPlutoIn,sLimeOut,sLimeIn,sRemOut,sPers,sRtl} {\draw[link] (wU64.south) -- (\t.west);}
\draw[link] (wDouble.north) -- (sSoapyIn.west);
\draw[link] (wS32.east) .. controls (465,3300) and (465,2000) .. (465,1500) .. controls (465,1250) and (520,950) .. (args.south);
\draw[link] (wBlob.east) .. controls (460,2700) and (465,2400) .. (467,2100) .. controls (480,1800) and (540,1350) .. (audio.south);
\draw[link] (wU64.east) .. controls (465,5600) and (470,6000) .. (sFileSink.north);
\draw[link] (wS64.east) .. controls (468,5600) and (482,6000) .. ([xshift=3pt]sFileSink.north);
% settings and their callers
\draw[link] (args.north) .. controls (600,400) and (660,230) .. (cSave.west);
\draw[link] (audio.north) .. controls (640,820) and (676,600) .. (677,400) .. controls (677,270) and (720,225) .. (cSave.west);
\hubR{prefs}{cSave}
\hubR{preset}{cPreset}
\hubR{gSpec}{cPreset}
\hubR{sMem}{cMem}
\hubR{sLora}{cLoraGui}
\hubR{sLora}{cLora}
\hubR{sLora}{cLoraSpec}
\hubR{sUdpSrc}{cUdpSrc}
\hubR{sUdpSrc}{cUdpSrcGui}
\hubR{sUdpSrc}{cUdpSrcSpec}
\hubR{sFdvMod}{cFdvModGui}
\hubR{sFdvMod}{cFdvMod}
\hubR{sFdvMod}{cFdvModCw}
\hubR{sSsbMod}{cSsbMod}
\hubR{sSsbMod}{cSsbModGui}
\hubR{sSsbMod}{cSsbModCw}
\hubR{sUdpSink}{cUdpSinkSpec}
\hubR{sUdpSink}{cUdpSink}
\hubR{sUdpSink}{cUdpSinkGui}
\hubR{sAtvMod}{cAtvModMark}
\hubR{sAtvMod}{cAtvModGui}
\hubR{sAtvMod}{cAtvMod}
\hubR{sAtvDem}{cAtvDemMark}
\hubR{sSoapyOut}{cSoapyOut}
\hubR{sSoapyOut}{cSoapyOutGui}
\hubR{sWfmDem}{cWfmDem}
\hubR{sWfmDem}{cWfmDemGui}
\hubR{sWfmDem}{cWfmDemMark}
\hubR{sBfmDem}{cBfmDemGui}
\hubR{sBfmDem}{cBfmDem}
\hubR{sBfmDem}{cBfmDemSpec}
\hubR{sAmDem}{cAmDemGui}
\hubR{sAmDem}{cAmDem}
\hubR{sAmDem}{cAmDemMark}
\hubR{sNfmDem}{cNfmDemGui}
\hubR{sNfmDem}{cNfmDem}
\hubR{sNfmDem}{cNfmDemMark}
\hubR{sSsbDem}{cSsbDem}
\hubR{sSsbDem}{cSsbDemGui}
\hubR{sSsbDem}{cSsbDemSpec}
\hubR{sChan}{cChanScope}
\hubR{sChan}{cChanGui}
\hubR{sFdvDem}{cFdvDemGui}
\hubR{sFdvDem}{cFdvDem}
\hubR{sFdvDem}{cFdvDemSpec}
\hubR{sSoapyIn}{cSoapyInGui}
\hubR{sDsd}{cDsdGui}
\hubR{sDsd}{cDsd}
\hubR{sDsd}{cDsdScope}
\hubR{sAmMod}{cAmModGui}
\hubR{sAmMod}{cAmMod}
\hubR{sAmMod}{cAmModCw}
\hubR{sWfmMod}{cWfmMod}
\hubR{sWfmMod}{cWfmModGui}
\hubR{sWfmMod}{cWfmModCw}
\hubR{sNfmMod}{cNfmModGui}
\hubR{sNfmMod}{cNfmMod}
\hubR{sNfmMod}{cNfmModCw}
\hubR{sCw}{cCwGui}
\hubR{sSdrPlay}{cSdrPlay}
\hubR{sSdrPlay}{cSdrPlayGui}
\hubR{sBlOneOut}{cBlOneOutGui}
\hubR{sBlOneOut}{cBlOneOut}
\hubR{sFileSrc}{cFileSrc}
\draw[link] (sFileSrc.east) -- (cFileSrcMark.west);
\draw[link] (sFileSrc.east) -- (cFileSrcGui.west);
\draw[link] (sBlOneIn.east) -- (cBlOneInGui.west);
\draw[link] (sBlOneIn.east) -- (cBlOneIn.west);
\draw[link] (sXtrxOut.east) -- (cXtrxOutGui.west);
\draw[link] (sXtrxOut.east) -- (cXtrxOut.west);
\draw[link] (sXtrxIn.east) -- (cXtrxInGui.west);
\draw[link] (sXtrxIn.south east) -- (cXtrxIn.west);
\draw[link] (sDatv.south east) -- (cDatvMark.west);
\hubR{sDatv}{cDatvGui}
\hubR{sFreq}{cFreqGui}
\hubR{sFreq}{cFreq}
\hubR{sFreq}{cFreqMark}
\hubR{preset}{cExport}
\hubR{preset}{cWebApi}
\hubR{sRemSink}{cRemSinkMark}
\hubR{sRemSink}{cRemSinkGui}
\hubR{sRemSink}{cRemSink}
\hubR{sLocIn}{cLocIn}
\hubR{sLocIn}{cLocInGui}
\hubR{sRemIn}{cRemInGui}
\hubR{sRemIn}{cRemIn}
\hubR{sBlTwoOut}{cBlTwoOutGui}
\hubR{sBlTwoOut}{cBlTwoOut}
\hubR{sFileIn}{cFileIn}
\hubR{sFileIn}{cFileInDtor}
\hubR{sFileIn}{cFileInGui}
\hubR{sKiwi}{cKiwiGui}
\hubR{sKiwi}{cKiwi}
\hubR{sRemSrc}{cRemSrc}
\hubR{sRemSrc}{cRemSrcMark}
\hubR{sRemSrc}{cRemSrcGui}
\hubR{sFcd}{cFcdGui}
\hubR{sFcd}{cFcd}
\hubR{sLocSrc}{cLocSrc}
\hubR{sLocSrc}{cLocSrcMark}
\hubR{sLocSrc}{cLocSrcGui}
\hubR{sLocSink}{cLocSink}
\hubR{sLocSink}{cLocSinkMark}
\hubR{sLocSink}{cLocSinkGui}
\hubR{sTestMi}{cTestMi}
\hubR{sTestMi}{cTestMiGui}
\hubR{sAirHf}{cAirHf}
\hubR{sAirHf}{cAirHfGui}
\hubR{sHackOut}{cHackOut}
\hubR{sHackOut}{cHackOutGui}
\hubR{sHackIn}{cHackIn}
\hubR{sHackIn}{cHackInGui}
\hubR{sBlTwoIn}{cBlTwoIn}
\hubR{sBlTwoIn}{cBlTwoInGui}
\hubR{sAir}{cAir}
\hubR{sAir}{cAirGui}
\hubR{sTest}{cTestGui}
\hubR{sTest}{cTest}
\hubR{sFcdPlus}{cFcdPlusGui}
\hubR{sFcdPlus}{cFcdPlus}
\hubR{sPers}{cPersGui}
\hubR{sPers}{cPers}
\hubR{sRtl}{cRtlGui}
\hubR{sRtl}{cRtl}
\hubR{sLocOut}{cLocOut}
\hubR{sLocOut}{cLocOutGui}
\hubR{sPlutoOut}{cPlutoOut}
\hubR{sPlutoOut}{cPlutoOutGui}
\hubR{sPlutoIn}{cPlutoIn}
\hubR{sPlutoIn}{cPlutoInGui}
\hubR{sLimeOut}{cLimeOutGui}
\hubR{sLimeOut}{cLimeOut}
\hubR{sLimeIn}{cLimeIn}
\hubR{sLimeIn}{cLimeInGui}
\draw[link] (sRemOut.south) .. controls (590,6300) and (665,6800) .. (680,7000) .. controls (690,7200) and (700,7369) .. (cRemOut.west);
\draw[link] ([xshift=2pt]sRemOut.south) .. controls (595,6300) and (672,6800) .. (685,7000) .. controls (695,7200) and (705,7427) .. (cRemOutGui.west);
\draw[link] (sFileSink.south) .. controls (590,7300) and (680,7486) .. (cFileSinkOut.west);
\draw[link] ([xshift=2pt]sFileSink.south) .. controls (600,7300) and (690,7536) .. (cFileSinkGui.west);
% main window
\draw[link] ([xshift=10pt]cSave.north) .. controls (900,120) and (1000,40) .. (dCore.west);
\draw[link] ([xshift=20pt]cSave.north) .. controls (920,150) and (990,105) .. (dCommands.west);
\draw[link] ([xshift=35pt]cSave.north) .. controls (930,180) and (1010,155) .. (dDtor.west);
\draw[link] (cSave.east) -- (dSettings.west);
\draw[link] (cSave.east) -- (dClose.west);
\draw[link] (cSave.east) .. controls (970,232) and (1000,290) .. (dHandle.west);
\draw[link] ([xshift=100pt]cPreset.north) .. controls (1010,300) and (970,210) .. (dSettings.west);
\draw[link] ([xshift=90pt]cPreset.north) .. controls (1000,290) and (1010,255) .. (dClose.west);
\draw[link] (cPreset.east) -- (dHandle.west);
\draw[link] (cPreset.east) -- (dUpdate.west);
\draw[link] ([xshift=85pt]cPreset.south) .. controls (990,375) and (1000,400) .. (dPreSave.west);
% to the right
\draw[link] (cLora.east) -- (dLora.west);
\draw[link] (cLoraSpec.east) -- (dLoraGui.west);
\draw[link] (cUdpSrc.east) -- (dUdpSrc.west);
\draw[link] (cFdvMod.east) -- (dFdvMod.west);
\draw[link] (cFdvModCw.east) -- (dFdvModGui.west);
\draw[link] (cSsbMod.east) -- (dSsbMod.west);
\draw[link] (cSsbModCw.east) -- (dSsbModGui.west);
\draw[link] (cUdpSinkSpec.east) -- (dUdpSinkGui.west);
\draw[link] (cUdpSink.east) -- (dUdpSink.west);
\draw[link] (cAtvModMark.east) -- (dAtvModGui.west);
\draw[link] (cAtvMod.east) -- (dAtvMod.west);
\draw[link] (cWfmDem.east) -- (dWfmDem.west);
\draw[link] (cWfmDemMark.east) -- (dWfmDemGui.west);
\draw[link] (cBfmDemSpec.east) -- (dBfmDemGui.west);
\draw[link] (cAmDem.east) -- (dAmDem.west);
\draw[link] (cAmDemMark.east) -- (dAmDemGui.west);
\draw[link] (cNfmDem.east) -- (dNfmDem.west);
\draw[link] (cNfmDemMark.east) -- (dNfmDemGui.west);
\draw[link] (cSsbDem.east) -- (dSsbDem.west);
\draw[link] (cSsbDemSpec.east) -- (dSsbDemGui.west);
\draw[link] (cChanScope.east) -- (dChanGui.west);
\draw[link] (cFdvDem.east) -- (dFdvDem.west);
\draw[link] (cFdvDemSpec.east) -- (dFdvDemGui.west);
\draw[link] (cDsd.east) -- (dDsd.west);
\draw[link] (cAmMod.east) -- (dAmMod.west);
\draw[link] (cAmModCw.east) -- (dAmModGui.west);
\draw[link] (cWfmMod.east) -- (dWfmMod.west);
\draw[link] (cWfmModCw.east) -- (dWfmModGui.west);
\draw[link] (cNfmMod.east) -- (dNfmMod.west);
\draw[link] (cNfmModCw.east) -- (dNfmModGui.west);
\draw[link] (cSdrPlay.east) -- (dSdrPlay.west);
\draw[link] (cBlOneOut.east) -- (dBlOneOut.west);
\draw[link] (cFileSrc.east) -- (dFileSrc.west);
\draw[link] (cFileSrcMark.east) -- (dFileSrcGui.west);
\draw[link] (cBlOneIn.east) -- (dBlOneIn.west);
\draw[link] (cXtrxOut.east) -- (dXtrxOut.west);
\draw[link] (cXtrxIn.east) -- (dXtrxIn.west);
\draw[link] (cFreq.east) -- (dFreq.west);
\draw[link] (cFreqMark.east) -- (dFreqGui.west);
\draw[link] (cRemSinkMark.east) -- (dRemSinkGui.west);
\draw[link] (cRemSink.east) -- (dRemSink.west);
\draw[link] (cLocIn.east) -- (dLocIn.west);
\draw[link] (cRemIn.east) -- (dRemIn.west);
\draw[link] (cBlTwoOut.east) -- (dBlTwoOut.west);
\draw[link] (cFileIn.east) -- (dFileIn.west);
\draw[link] (cKiwi.east) -- (dKiwi.west);
\draw[link] (cRemSrc.east) -- (dRemSrc.west);
\draw[link] (cRemSrcMark.east) -- (dRemSrcGui.west);
\draw[link] (cLocSrc.east) -- (dLocSrc.west);
\draw[link] (cLocSrcMark.east) -- (dLocSrcGui.west);
\draw[link] (cLocSink.east) -- (dLocSink.west);
\draw[link] (cLocSinkMark.east) -- (dLocSinkGui.west);
\draw[link] (cTestMi.east) -- (dTestMi.west);
\draw[link] (cAirHf.east) -- (dAirHf.west);
\draw[link] (cHackOut.east) -- (dHackOut.west);
\draw[link] (cHackIn.east) -- (dHackIn.west);
\draw[link] (cBlTwoIn.east) -- (dBlTwoIn.west);
\draw[link] (cAir.east) -- (dAir.west);
\draw[link] (cTest.east) -- (dTest.west);
\draw[link] (cPers.east) -- (dPers.west);
\draw[link] (cRtl.east) -- (dRtl.west);
\draw[link] (cLocOut.east) -- (dLocOut.west);
\draw[link] (cPlutoOut.east) -- (dPlutoOut.west);
\draw[link] (cPlutoIn.east) -- (dPlutoIn.west);
\draw[link] (cLimeOut.east) -- (dLimeOut.west);
\draw[link] (cLimeIn.east) -- (dLimeIn.west);
\draw[link] (cRemOut.east) -- (dRemOut.west);
\draw[link] (cFileSinkOut.east) -- (dFileSink.west);
\draw[link] (dCore.east) -- (eCore.west);
\draw[link] (dHandle.east) -- (eMain.west);
\draw[link] (dLoraGui.east) -- (eLora.west);
\draw[link] (dFdvModGui.east) -- (eFdvMod.west);
\draw[link] (dSsbModGui.east) -- (eSsbMod.west);
\draw[link] (dUdpSinkGui.east) -- (eUdpSink.west);
\draw[link] (dAtvModGui.east) -- (eAtvMod.west);
\draw[link] (dWfmDemGui.east) -- (eWfmDem.west);
\draw[link] (dBfmDemGui.east) -- (eBfmDem.west);
\draw[link] (dAmDemGui.east) -- (eAmDem.west);
\draw[link] (dNfmDemGui.east) -- (eNfmDem.west);
\draw[link] (dSsbDemGui.east) -- (eSsbDem.west);
\draw[link] (dChanGui.east) -- (eChan.west);
\draw[link] (dFdvDemGui.east) -- (eFdvDem.west);
\draw[link] (dAmModGui.east) -- (eAmMod.west);
\draw[link] (dWfmModGui.east) -- (eWfmMod.west);
\draw[link] (dNfmModGui.east) -- (eNfmMod.west);
\draw[link] (dFileSrcGui.east) -- (eFileSrc.west);
\draw[link] (dXtrxOut.east) -- (eXtrxOut.west);
\draw[link] (dXtrxIn.east) -- (eXtrxIn.west);
\draw[link] (dFreqGui.east) -- (eFreq.west);
\draw[link] (dRemSinkGui.east) -- (eRemSink.west);
\draw[link] (dBlTwoOut.east) -- (eBlTwoOut.west);
\draw[link] (dRemSrcGui.east) -- (eRemSrc.west);
\draw[link] (dLocSrcGui.east) -- (eLocSrc.west);
\draw[link] (dLocSinkGui.east) -- (eLocSink.west);
\draw[link] (dBlTwoIn.east) -- (eBlTwoIn.west);
\draw[link] (eCore.east) -- (fCore.west);
\draw[link] (eMain.east) -- (fMain.west);
\draw[link] (eLora.east) -- (fLora.west);
\draw[link] (eFdvMod.east) -- (fFdvMod.west);
\draw[link] (eSsbMod.east) -- (fSsbMod.west);
\draw[link] (eUdpSink.east) -- (fUdpSink.west);
\draw[link] (eAtvMod.east) -- (fAtvMod.west);
\draw[link] (eWfmDem.east) -- (fWfmDem.west);
\draw[link] (eBfmDem.east) -- (fBfmDem.west);
\draw[link] (eAmDem.east) -- (fAmDem.west);
\draw[link] (eNfmDem.east) -- (fNfmDem.west);
\draw[link] (eSsbDem.east) -- (fSsbDem.west);
\draw[link] (eChan.east) -- (fChan.west);
\draw[link] (eFdvDem.east) -- (fFdvDem.west);
\draw[link] (eAmMod.east) -- (fAmMod.west);
\draw[link] (eWfmMod.east) -- (fWfmMod.west);
\draw[link] (eNfmMod.east) -- (fNfmMod.west);
\draw[link] (eFileSrc.east) -- (fFileSrc.west);
\draw[link] (eXtrxOut.east) -- (fXtrxOut.west);
\draw[link] (eXtrxIn.east) -- (fXtrxIn.west);
\draw[link] (eFreq.east) -- (fFreq.west);
\draw[link] (eRemSink.east) -- (fRemSink.west);
\draw[link] (eBlTwoOut.east) -- (fBlTwoOut.west);
\draw[link] (eRemSrc.east) -- (fRemSrc.west);
\draw[link] (eLocSrc.east) -- (fLocSrc.west);
\draw[link] (eLocSink.east) -- (fLocSink.west);
\draw[link] (eBlTwoIn.east) -- (fBlTwoIn.west);
\draw[link] (fFdvMod.east) -- (hFdvMod.west);
\draw[link] (fSsbMod.east) -- (hSsbMod.west);
\draw[link] (fUdpSink.east) -- (hUdpSink.west);
\draw[link] (fAtvMod.east) -- (hAtvMod.west);
\draw[link] (fWfmDem.east) -- (hWfmDem.west);
\draw[link] (fBfmDem.east) -- (hBfmDem.west);
\draw[link] (fAmDem.east) -- (hAmDem.west);
\draw[link] (fNfmDem.east) -- (hNfmDem.west);
\draw[link] (fSsbDem.east) -- (hSsbDem.west);
\draw[link] (fFdvDem.east) -- (hFdvDem.west);
\draw[link] (fAmMod.east) -- (hAmMod.west);
\draw[link] (fWfmMod.east) -- (hWfmMod.west);
\draw[link] (fNfmMod.east) -- (hNfmMod.west);
\draw[link] (fFileSrc.east) -- (hFileSrc.west);
\draw[link] (fXtrxOut.east) -- (hXtrxOut.west);
\draw[link] (fXtrxIn.east) -- (hXtrxIn.west);
\draw[link] (fFreq.east) -- (hFreq.west);
\draw[link] (fRemSink.east) -- (hRemSink.west);
\draw[link] (fBlTwoOut.east) -- (hBlTwoOut.west);
\draw[link] (fRemSrc.east) -- (hRemSrc.west);
\draw[link] (fLocSrc.east) -- (hLocSrc.west);
\draw[link] (fLocSink.east) -- (hLocSink.west);
\draw[link] (fBlTwoIn.east) -- (hBlTwoIn.west);
\draw[link] (hXtrxOut.east) -- (kXtrxOut.west);
\draw[link] (hXtrxIn.east) -- (kXtrxIn.west);
\draw[link] (hBlTwoOut.east) -- (kBlTwoOut.west);
\end{pgfonlayer}
\end{tikzpicture}
\end{document}
